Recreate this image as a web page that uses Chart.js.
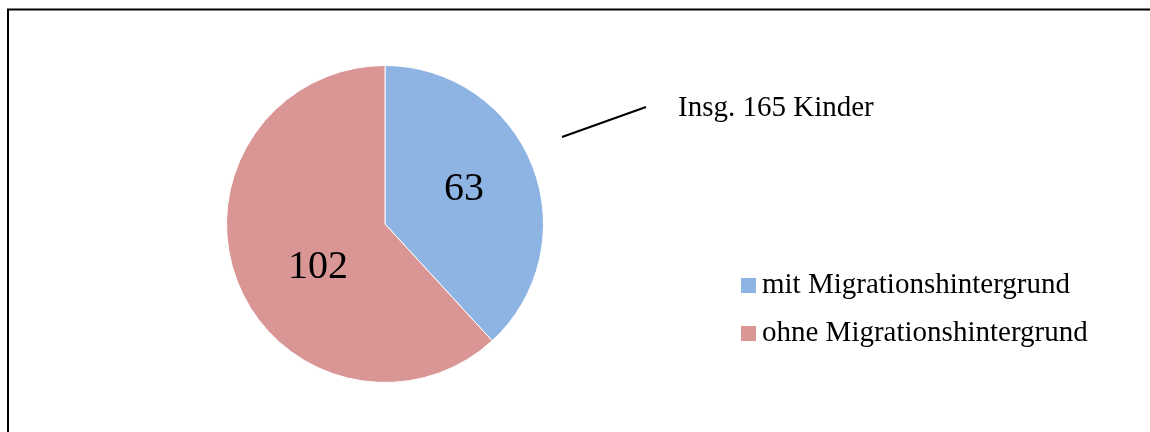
<!DOCTYPE html>
<html>
<head>
<meta charset="utf-8">
<script src="https://cdn.jsdelivr.net/npm/chart.js@4/dist/chart.umd.min.js"></script>
<style>
  html, body { margin: 0; padding: 0; background: #fff; }
  #wrap { width: 1150px; height: 432px; position: relative; }
</style>
</head>
<body>
<div id="wrap"><canvas id="pieChart"></canvas></div>
<script>
// data
const categories = ['mit Migrationshintergrund', 'ohne Migrationshintergrund'];
const childCounts = [63, 102];
const sliceColors = ['#8EB4E3', '#D99694'];
const totalNote = 'Insg. 165 Kinder';

const serif = '"Liberation Serif", "Times New Roman", serif';

// frame around the chart (left + top edge, the rest is cut off)
const framePlugin = {
  id: 'frame',
  beforeDraw(chart) {
    const ctx = chart.ctx;
    ctx.save();
    ctx.strokeStyle = '#000';
    ctx.lineWidth = 2;
    ctx.beginPath();
    ctx.moveTo(8, 432);
    ctx.lineTo(8, 9.5);
    ctx.lineTo(1150, 9.5);
    ctx.stroke();
    ctx.restore();
  }
};

// value labels inside the slices
const sliceLabels = {
  id: 'sliceLabels',
  afterDatasetsDraw(chart, args, opts) {
    const ctx = chart.ctx;
    const meta = chart.getDatasetMeta(0);
    ctx.save();
    ctx.font = '40px ' + serif;
    ctx.fillStyle = '#000';
    ctx.textAlign = 'center';
    ctx.textBaseline = 'middle';
    meta.data.forEach((arc, i) => {
      const mid = (arc.startAngle + arc.endAngle) / 2 + opts.angleShift[i];
      const r = arc.outerRadius * opts.radiusFactor[i];
      const x = arc.x + Math.cos(mid) * r;
      const y = arc.y + Math.sin(mid) * r;
      ctx.fillText(String(chart.data.datasets[0].data[i]), x, y);
    });
    ctx.restore();
  }
};

// legend + the "total" note with its leader line
const sideNotes = {
  id: 'sideNotes',
  afterDraw(chart) {
    const ctx = chart.ctx;
    ctx.save();
    ctx.font = '29px ' + serif;
    ctx.fillStyle = '#000';
    ctx.textBaseline = 'alphabetic';
    ctx.fillText(totalNote, 678, 116);

    ctx.strokeStyle = '#000';
    ctx.lineWidth = 2;
    ctx.beginPath();
    ctx.moveTo(562, 137);
    ctx.lineTo(646, 107);
    ctx.stroke();

    const colors = chart.data.datasets[0].backgroundColor;
    chart.data.labels.forEach((lbl, i) => {
      const y = 293 + i * 48;
      ctx.fillStyle = colors[i];
      ctx.fillRect(741, y - 15, 15, 15);
      ctx.fillStyle = '#000';
      ctx.fillText(lbl, 762, y);
    });
    ctx.restore();
  }
};

new Chart(document.getElementById('pieChart'), {
  type: 'pie',
  data: {
    labels: categories,
    datasets: [{
      data: childCounts,
      backgroundColor: sliceColors,
      borderColor: '#fff',
      borderWidth: 1
    }]
  },
  options: {
    responsive: true,
    maintainAspectRatio: false,
    animation: false,
    events: [],
    layout: { padding: { left: 226, right: 606, top: 65, bottom: 49 } },
    plugins: {
      legend: { display: false },
      tooltip: { enabled: false },
      sliceLabels: { radiusFactor: [0.545, 0.505], angleShift: [-0.045, -0.21] }
    }
  },
  plugins: [framePlugin, sliceLabels, sideNotes]
});
</script>
</body>
</html>
